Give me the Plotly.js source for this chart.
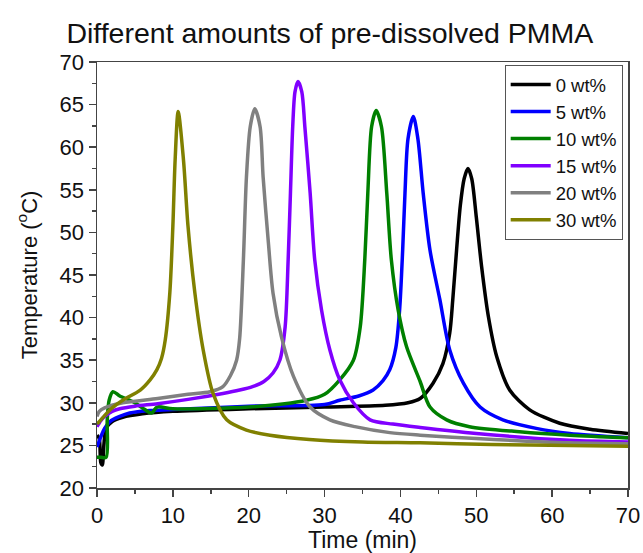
<!DOCTYPE html>
<html><head><meta charset="utf-8">
<script src="https://cdn.plot.ly/plotly-3.0.1.min.js"></script>
<style>html,body{margin:0;padding:0;background:#fff}#chart{width:643px;height:553px}</style>
</head><body><div id="chart"></div>
<script>
const seriesNames = ["0 wt%", "5 wt%", "10 wt%", "15 wt%", "20 wt%", "30 wt%"];
const seriesColors = ["#000000", "#0000ff", "#008000", "#8000ff", "#808080", "#808000"];

const x0 = [0, 0.3, 0.5, 0.7, 0.9, 1.2, 2, 3.4, 6, 10, 20, 30, 38, 41, 42.6, 44.3, 45.6, 46.5, 46.9, 47.4, 47.9, 48.4, 48.9, 49.4, 50.0, 50.7, 51.6, 52.7, 54.4, 57.0, 61.0, 65, 70];
const y0 = [26.2, 25.8, 23, 22.7, 25, 27, 27.8, 28.3, 28.7, 29, 29.3, 29.5, 29.7, 30.0, 30.5, 32.3, 34.6, 38.2, 42.1, 47.9, 53.2, 56.3, 57.5, 56.3, 51.8, 46.0, 40.1, 35.4, 31.5, 29.2, 27.6, 26.9, 26.4];

const x5 = [0, 0.5, 1, 1.7, 3, 4.3, 7, 10, 20, 30, 32, 34.5, 36.4, 37.7, 38.6, 39.4, 39.9, 40.3, 40.6, 41.0, 41.7, 42.3, 43.0, 43.9, 45.2, 46.5, 48.3, 50.5, 53.5, 57.9, 62.3, 70];
const y5 = [24.8, 26, 27, 27.8, 28.4, 28.8, 29.1, 29.2, 29.6, 29.8, 30.3, 30.8, 31.5, 32.6, 33.9, 36.5, 41.0, 48.0, 54.6, 61.0, 63.6, 61.0, 54.6, 47.9, 42.1, 36.2, 32.3, 29.5, 28.0, 27.0, 26.4, 25.9];

const x10 = [0, 0.5, 1.2, 1.35, 1.6, 2.1, 3, 4.8, 6, 7.2, 7.9, 10, 20, 27.6, 30, 32, 33.8, 34.7, 35.3, 35.7, 36.2, 36.8, 37.5, 38.2, 38.8, 39.7, 40.8, 42.6, 43.9, 46.1, 49.1, 55.7, 62.3, 70];
const y10 = [23.6, 23.6, 23.6, 28.0, 30.3, 31.3, 30.8, 30.1, 29.4, 28.8, 29.5, 29.3, 29.5, 30.3, 31, 32.7, 35.0, 38.9, 46.8, 54.6, 62.4, 64.3, 62.4, 54.6, 46.8, 40.9, 36.6, 32.5, 29.5, 28.0, 27.2, 26.6, 26.2, 25.9];

const x15 = [0, 0.5, 1, 2, 3, 5, 8, 12, 16.6, 18.8, 20.5, 22, 23.2, 24.1, 24.8, 25.2, 25.5, 25.8, 26.1, 26.5, 27.0, 27.4, 28.1, 28.7, 29.6, 30.7, 32.0, 33.8, 36.0, 39, 42.6, 50, 62.3, 70];
const y15 = [27.2, 27.9, 28.4, 29, 29.3, 29.6, 29.9, 30.4, 31.1, 31.5, 31.9, 32.5, 33.5, 35.0, 38.9, 46.8, 54.6, 62.4, 66.5, 67.7, 66.5, 62.4, 54.6, 46.8, 40.9, 36.2, 32.7, 30.0, 28.0, 27.5, 27.1, 26.4, 25.6, 25.4];

const x20 = [0, 0.3, 1, 3.4, 8, 12, 14.9, 16.6, 17.6, 18.4, 18.8, 19.3, 19.7, 20.2, 20.8, 21.5, 21.9, 22.6, 23.2, 24.3, 25.9, 28.1, 30.7, 34, 38.6, 42.6, 50, 62.3, 70];
const y20 = [28.4, 29, 29.4, 30, 30.5, 31, 31.3, 31.9, 33.2, 35, 37.5, 46.8, 56.5, 62.4, 64.5, 62.4, 56.5, 48.7, 42.9, 37.8, 33.1, 29.5, 28.0, 27.2, 26.5, 26.2, 25.8, 25.3, 25.2];

const x30 = [0, 1, 2, 3.4, 5.7, 7.0, 7.9, 8.5, 9.0, 9.6, 10.0, 10.3, 10.7, 11.4, 12.0, 12.9, 14.0, 15.3, 17.1, 19.7, 22.8, 28, 35, 42.6, 52, 62.3, 70];
const y30 = [27.5, 28.5, 29.4, 30.3, 31.5, 32.7, 33.9, 35.2, 37.4, 42.9, 50.7, 58.5, 64.2, 58.5, 50.7, 42.9, 36.2, 31.1, 28.0, 26.8, 26.2, 25.7, 25.4, 25.3, 25.1, 25.0, 24.9];

const xs = [x0, x5, x10, x15, x20, x30];
const ys = [y0, y5, y10, y15, y20, y30];

const traces = seriesNames.map((n, i) => ({
  x: xs[i], y: ys[i], name: n, type: 'scatter', mode: 'lines',
  line: {color: seriesColors[i], width: 3.5, shape: 'spline', smoothing: 0.8}
}));

const font = "Liberation Sans, Arial, sans-serif";
const axisCommon = {
  showline: true, mirror: true, linecolor: '#444', linewidth: 1.5,
  ticks: 'outside', ticklen: 7, tickwidth: 1.5, tickcolor: '#444',
  showgrid: false, zeroline: false,
  tickfont: {family: font, size: 22, color: '#111'}
};
const layout = {
  width: 643, height: 553,
  margin: {l: 97, r: 15, t: 62, b: 65},
  paper_bgcolor: '#fff', plot_bgcolor: '#fff',
  title: {text: 'Different amounts of pre-dissolved PMMA', font: {family: font, size: 28.5, color: '#111'}, x: 0.513, xanchor: 'center', y: 0.94, yanchor: 'middle'},
  xaxis: Object.assign({}, axisCommon, {
    range: [0, 70], dtick: 10, tick0: 0,
    minor: {ticks: 'outside', dtick: 5, ticklen: 4, tickcolor: '#444'},
    title: {text: 'Time (min)', font: {family: font, size: 23, color: '#111'}, standoff: 2}
  }),
  yaxis: Object.assign({}, axisCommon, {
    range: [20, 70], dtick: 5, tick0: 20,
    minor: {ticks: 'outside', dtick: 2.5, ticklen: 4, tickcolor: '#444'},
    title: {text: 'Temperature (<sup>o</sup>C)', font: {family: font, size: 22, color: '#111'}, standoff: 16}
  }),
  legend: {
    x: 0.99, y: 0.993, xanchor: 'right', yanchor: 'top',
    bordercolor: '#555', borderwidth: 1, bgcolor: '#fff',
    font: {family: font, size: 18.5, color: '#111'},
    tracegroupgap: 0, itemwidth: 40
  },
  showlegend: true
};
Plotly.newPlot('chart', traces, layout, {displayModeBar: false, staticPlot: true});
</script></body></html>
